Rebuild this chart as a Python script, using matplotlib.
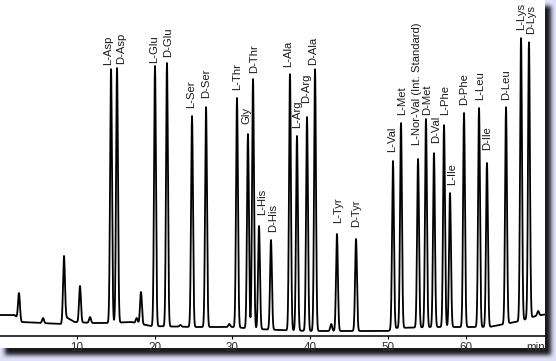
import numpy as np
import matplotlib
matplotlib.use("Agg")
import matplotlib.pyplot as plt

plt.rcParams['font.family'] = ['Liberation Sans', 'DejaVu Sans']

# labelled peaks: name, retention time (min), signal at apex (arb. units)
peak_names = ['L-Asp', 'D-Asp', 'L-Glu', 'D-Glu', 'L-Ser', 'D-Ser', 'L-Thr', 'Gly',
              'D-Thr', 'L-His', 'D-His', 'L-Ala', 'L-Arg', 'D-Arg', 'D-Ala', 'L-Tyr',
              'D-Tyr', 'L-Val', 'L-Met', 'L-Nor-Val (Int. Standard)', 'D-Met', 'D-Val',
              'L-Phe', 'L-Ile', 'D-Phe', 'L-Leu', 'D-Ile', 'D-Leu', 'L-Lys', 'D-Lys']
peak_times = [14.40, 15.17, 20.05, 21.59, 24.81, 26.61, 30.59, 32.00,
              32.65, 33.42, 34.96, 37.40, 38.30, 39.59, 40.62, 43.44,
              45.89, 50.64, 51.67, 53.86, 54.88, 55.91,
              57.20, 57.97, 59.77, 61.70, 62.72, 65.17, 67.10, 68.12]
peak_heights = [267, 268, 270, 273, 220, 229, 238, 202,
                257, 110, 96, 262, 200, 219, 267, 102,
                97, 175, 213, 177, 217, 183,
                211, 143, 223, 228, 173, 229, 298, 294]

# unlabelled minor peaks
minor_times = [2.57, 5.66, 8.35, 10.41, 11.70, 17.70, 18.25, 23.30, 29.60, 42.70, 69.30]
minor_heights = [43, 18, 80, 50, 19, 18, 44, 11, 12, 12, 25]

# baseline drift (time, level)
base_t = [0.0, 2.0, 2.9, 8.0, 8.6, 9.7, 12.0, 14.0, 17.0, 19.5, 25.0, 30.0, 33.0,
          36.0, 40.0, 50.0, 51.0, 56.0, 60.0, 63.0, 65.0, 67.0, 69.0, 70.5]
base_y = [21, 21, 14, 12, 19, 14, 13, 13, 14, 10, 9, 9, 7,
          6, 5, 5, 8, 9, 9, 9, 12, 15, 20, 22]

# label layout tweaks: (dx px, gap px above apex)
label_tweak = {
    'L-Asp': (-3, 4), 'D-Asp': (4, 4), 'L-Glu': (-1, 3), 'D-Glu': (1, 6),
    'L-Ser': (-1, 8), 'D-Ser': (0, 9), 'L-Thr': (0, 8), 'Gly': (-2, 10),
    'D-Thr': (1, 6), 'L-His': (3, 11), 'D-His': (2, 8), 'L-Ala': (-2, 7),
    'L-Arg': (0, 8), 'D-Arg': (-1, 14), 'D-Ala': (-2, 4), 'L-Tyr': (1, 11),
    'D-Tyr': (0, 12), 'L-Val': (-1, 9), 'L-Met': (1, 8),
    'L-Nor-Val (Int. Standard)': (-1, 14), 'D-Met': (1, 4), 'D-Val': (2, 10),
    'L-Phe': (1, 10), 'L-Ile': (2, 8), 'D-Phe': (0, 8), 'L-Leu': (1, 8),
    'D-Ile': (0, 13), 'D-Leu': (0, 7), 'L-Lys': (0, 8), 'D-Lys': (2, 8),
}

W, H = 556, 361
fig = plt.figure(figsize=(W / 100, H / 100), dpi=100)

# background: lavender, blurred dark drop shadow, white panel
bg = np.ones((H, W, 3)) * np.array([222, 223, 248]) / 255
mask = np.zeros((H, W))
mask[6:355, 5:551] = 1.0
k = np.ones(5) / 5
for _ in range(2):
    mask = np.apply_along_axis(lambda r: np.convolve(r, k, mode='same'), 1, mask)
    mask = np.apply_along_axis(lambda c: np.convolve(c, k, mode='same'), 0, mask)
shadow = np.array([25, 25, 30]) / 255
img = bg * (1 - mask[..., None]) + shadow * mask[..., None]
img[0:348, 0:545] = 1.0
fig.figimage(img, 0, 0, origin='upper', zorder=-5)

# axes: pixel x = 7.78 * t - 1, axis line at pixel row 336
ax = fig.add_axes([0, (H - 336) / H, 545 / W, 336 / H])
ax.set_zorder(5)
ax.patch.set_alpha(0)
ax.set_xlim(1 / 7.78, 546 / 7.78)
ax.set_ylim(0, 336)

t = np.linspace(0, 70.5, 6000)
sig = 0.12
base = np.interp(t, base_t, base_y)
trace = base.copy()
for pt, ph in zip(peak_times + minor_times, peak_heights + minor_heights):
    amp = ph - np.interp(pt, base_t, base_y)
    trace += amp * np.exp(-0.5 * ((t - pt) / sig) ** 2)
ax.plot(t, trace, color='black', lw=1.3, solid_joinstyle='round')

for name, pt, ph in zip(peak_names, peak_times, peak_heights):
    dx, gap = label_tweak.get(name, (0, 7))
    ax.annotate(name, xy=(pt, ph), xytext=(dx * 0.72, gap * 0.72),
                textcoords='offset points', rotation=90, ha='center', va='bottom',
                fontsize=8.1, color='#1a1a1a', annotation_clip=False)

for s in ['top', 'right', 'left']:
    ax.spines[s].set_visible(False)
ax.spines['bottom'].set_linewidth(1.1)
ax.set_yticks([])
ax.set_xticks([10, 20, 30, 40, 50, 60])
ax.tick_params(axis='x', length=2.5, width=0.8, pad=2, labelsize=8.4, labelcolor='#333333')
ax.annotate('min', xy=(1, 0), xycoords='axes fraction', xytext=(0, -4.5),
            textcoords='offset points', ha='right', va='top', fontsize=8.4, color='#333333')

fig.savefig('out.png', dpi=100)
